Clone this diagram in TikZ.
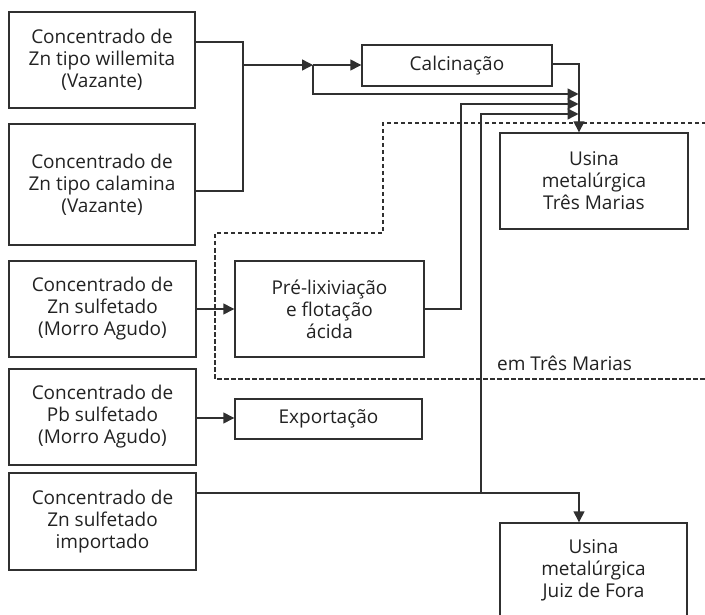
\documentclass[tikz,border=0pt]{standalone}
\usepackage{fontspec}
\setmainfont{Open Sans}
\usetikzlibrary{arrows.meta,calc}
\definecolor{linec}{HTML}{303030}
\definecolor{textc}{HTML}{222222}
\begin{document}
\begin{tikzpicture}[x=1pt,y=-1pt,
  box/.style={draw=linec, line width=1.4pt, align=center, text=textc,
    font=\fontsize{19}{22}\selectfont, inner sep=0pt},
  conn/.style={draw=linec, line width=1.4pt},
  arr/.style={conn, -{Triangle[length=11pt,width=11pt]}},
  region/.style={draw=linec, line width=1.6pt, dash pattern=on 4.5pt off 2.5pt}]
\useasboundingbox (0,0) rectangle (705,615);

% dashed region
\draw[region] (706,123) -- (383,123) -- (383,233) -- (215,233) -- (215,379) -- (706,379);

% boxes
\node[box, minimum width=186pt, minimum height=96pt] (b1) at (102,60) {Concentrado de\\Zn tipo willemita\\(Vazante)};
\node[box, minimum width=186pt, minimum height=121pt] (b2) at (102,184.5) {Concentrado de\\Zn tipo calamina\\(Vazante)};
\node[box, minimum width=187pt, minimum height=96pt] (b3) at (102.5,309) {Concentrado de\\Zn sulfetado\\(Morro Agudo)};
\node[box, minimum width=187pt, minimum height=96pt] (b4) at (102.5,417) {Concentrado de\\Pb sulfetado\\(Morro Agudo)};
\node[box, minimum width=187pt, minimum height=97pt] (b5) at (102.5,521.5) {Concentrado de\\Zn sulfetado\\importado};
\node[box, minimum width=190pt, minimum height=41pt] (calc) at (457,65.5) {Calcinação};
\node[box, minimum width=188pt, minimum height=96pt] (utm) at (594,181) {Usina\\metalúrgica\\Três Marias};
\node[box, minimum width=189pt, minimum height=96pt] (pre) at (329.5,309) {Pré-lixiviação\\e flotação\\ácida};
\node[box, minimum width=187pt, minimum height=40pt] (exp) at (328.5,419) {Exportação};
\node[box, minimum width=187pt, minimum height=95pt] (ujf) at (593.5,570.5) {Usina\\metalúrgica\\Juiz de Fora};
\node[anchor=west, text=textc, font=\fontsize{19}{22}\selectfont, inner sep=0pt] (lbl) at (497,363) {em Três Marias};

% junctions
\coordinate (j1) at (243,65);
\coordinate (j2) at (313,65);
\coordinate (j3) at (481,493);

% connectors
\draw[conn] ($(b1.east)+(0,-18)$) -- (243,42) -- (243,191) -- (b2.east |- 0,191);
\draw[arr] (j1) -- (j2);
\draw[arr] (j2) -- (calc.west |- j2);
\draw[arr] (j2) -- (313,94) -- (578.5,94);
\draw[arr] (calc.east |- 0,64) -- (579,64) -- (utm.north -| 579,0);
\draw[arr] (b3.east) -- (pre.west);
\draw[arr] (pre.east) -- (461,309) -- (461,104) -- (578.5,104);
\draw[arr] (b4.east |- 0,418) -- (exp.west |- 0,418);
\draw[arr] (b5.east |- j3) -- (579,493) -- (ujf.north -| 579,0);
\draw[arr] (j3) -- (481,114) -- (578.5,114);
\end{tikzpicture}
\end{document}
